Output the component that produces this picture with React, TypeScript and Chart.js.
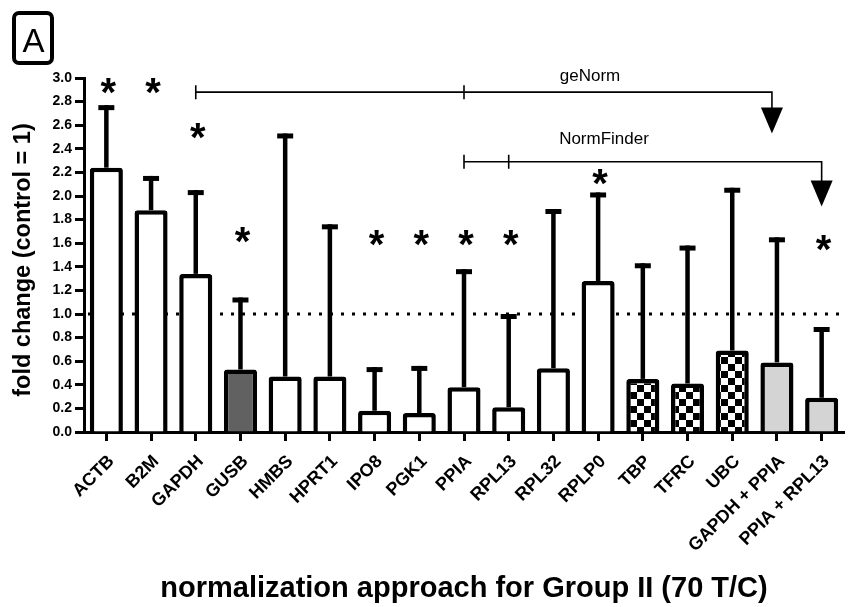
import React, { useEffect, useRef } from 'react';
import { Chart, registerables } from 'chart.js';

Chart.register(...registerables);

// ---------- data ----------
const categories = [
  'ACTB', 'B2M', 'GAPDH', 'GUSB', 'HMBS', 'HPRT1', 'IPO8', 'PGK1', 'PPIA',
  'RPL13', 'RPL32', 'RPLP0', 'TBP', 'TFRC', 'UBC', 'GAPDH + PPIA', 'PPIA + RPL13',
];
const foldChange = [2.24, 1.88, 1.34, 0.53, 0.47, 0.47, 0.18, 0.16, 0.38, 0.21, 0.54, 1.28, 0.45, 0.41, 0.69, 0.59, 0.29];
const sdUpper = [0.53, 0.29, 0.71, 0.61, 2.06, 1.29, 0.37, 0.40, 1.00, 0.79, 1.35, 0.75, 0.98, 1.17, 1.38, 1.06, 0.60];
const fillKind = ['white', 'white', 'white', 'dark', 'white', 'white', 'white', 'white', 'white', 'white', 'white', 'white', 'checker', 'checker', 'checker', 'light', 'light'];
const starLevel: (number | null)[] = [2.93, 2.93, 2.55, 1.67, null, null, 1.64, 1.64, 1.64, 1.64, null, 2.16, null, null, null, null, 1.60];
const yMin = 0;
const yMax = 3.0;
const yStep = 0.2;
const referenceLevel = 1.0;
const geNorm = { label: 'geNorm', from: 2, mid: 8, to: 15, level: 2.88, tip: 2.53 };
const normFinder = { label: 'NormFinder', from: 8, mid: 9, to: 16, level: 2.29, tip: 1.91 };
const panelLetter = 'A';
const yTitle = 'fold change (control = 1)';
const xTitle = 'normalization approach for Group II (70 T/C)';

const FONT = "'Liberation Sans', Arial, Helvetica, sans-serif";

function makeChecker(size: number): CanvasPattern | string {
  const c = document.createElement('canvas');
  c.width = size * 2;
  c.height = size * 2;
  const g = c.getContext('2d');
  if (!g) return '#888';
  g.fillStyle = '#ffffff';
  g.fillRect(0, 0, size * 2, size * 2);
  g.fillStyle = '#000000';
  g.fillRect(0, 0, size, size);
  g.fillRect(size, size, size, size);
  return g.createPattern(c, 'repeat') || '#888';
}

const overlayPlugin = {
  id: 'overlay',
  beforeDatasetsDraw(chart: any) {
    const { ctx, chartArea, scales } = chart;
    const y = scales.y.getPixelForValue(referenceLevel);
    ctx.save();
    ctx.strokeStyle = '#000';
    ctx.lineWidth = 3;
    ctx.setLineDash([3, 8]);
    ctx.beginPath();
    ctx.moveTo(chartArea.left + 4, y);
    ctx.lineTo(chartArea.right, y);
    ctx.stroke();
    ctx.restore();
  },
  afterDraw(chart: any) {
    const { ctx, scales } = chart;
    const xs = scales.x;
    const ys = scales.y;
    ctx.save();
    // error bars (upper only)
    ctx.strokeStyle = '#000';
    ctx.lineCap = 'butt';
    for (let i = 0; i < categories.length; i++) {
      const x = xs.getPixelForValue(i);
      const yb = ys.getPixelForValue(foldChange[i]);
      const yt = ys.getPixelForValue(foldChange[i] + sdUpper[i]);
      ctx.lineWidth = 4.5;
      ctx.beginPath();
      ctx.moveTo(x, yb);
      ctx.lineTo(x, yt);
      ctx.stroke();
      ctx.lineWidth = 5;
      ctx.beginPath();
      ctx.moveTo(x - 8, yt + 2.5);
      ctx.lineTo(x + 8, yt + 2.5);
      ctx.stroke();
    }
    // asterisks
    ctx.fillStyle = '#000';
    ctx.font = `bold 40px ${FONT}`;
    ctx.textAlign = 'center';
    ctx.textBaseline = 'alphabetic';
    const m = ctx.measureText('*');
    const asc = m.actualBoundingBoxAscent;
    const desc = m.actualBoundingBoxDescent;
    for (let i = 0; i < categories.length; i++) {
      const s = starLevel[i];
      if (s == null) continue;
      const x = xs.getPixelForValue(i) + 2;
      const cy = ys.getPixelForValue(s);
      ctx.fillText('*', x, cy + (asc - desc) / 2);
    }
    // brackets with arrows
    const drawBracket = (b: any, arrowShift: number, textX: number, textY: number) => {
      const y = ys.getPixelForValue(b.level);
      const x0 = xs.getPixelForValue(b.from);
      const x1 = xs.getPixelForValue(b.mid);
      const x2 = xs.getPixelForValue(b.to) + arrowShift;
      const tip = ys.getPixelForValue(b.tip);
      const triH = 26;
      ctx.strokeStyle = '#000';
      ctx.lineWidth = 1.6;
      ctx.beginPath();
      ctx.moveTo(x0, y);
      ctx.lineTo(x2, y);
      ctx.lineTo(x2, tip - triH + 2);
      ctx.stroke();
      ctx.beginPath();
      ctx.moveTo(x0, y - 7);
      ctx.lineTo(x0, y + 7);
      ctx.moveTo(x1, y - 7);
      ctx.lineTo(x1, y + 7);
      ctx.stroke();
      ctx.fillStyle = '#000';
      ctx.beginPath();
      ctx.moveTo(x2 - 11, tip - triH);
      ctx.lineTo(x2 + 11, tip - triH);
      ctx.lineTo(x2, tip);
      ctx.closePath();
      ctx.fill();
      ctx.font = `17px ${FONT}`;
      ctx.textAlign = 'center';
      ctx.textBaseline = 'middle';
      ctx.fillText(b.label, textX, textY);
    };
    drawBracket(geNorm, -5, 590, 76);
    drawBracket(normFinder, 0, 604, 139);

    // panel letter box
    ctx.lineWidth = 4;
    ctx.strokeStyle = '#000';
    ctx.beginPath();
    (ctx as any).roundRect(14, 13, 38, 50, 5);
    ctx.stroke();
    ctx.font = `33px ${FONT}`;
    ctx.textAlign = 'center';
    ctx.textBaseline = 'alphabetic';
    ctx.fillText(panelLetter, 33.5, 52);

    // axis titles
    ctx.font = `bold 23.5px ${FONT}`;
    ctx.save();
    ctx.translate(30, 260);
    ctx.rotate(-Math.PI / 2);
    ctx.textAlign = 'center';
    ctx.textBaseline = 'alphabetic';
    ctx.fillText(yTitle, 0, 0);
    ctx.restore();
    ctx.font = `bold 29px ${FONT}`;
    ctx.textAlign = 'center';
    ctx.textBaseline = 'alphabetic';
    ctx.fillText(xTitle, 464, 597);
    ctx.restore();
  },
};

export default function App() {
  const ref = useRef<HTMLCanvasElement | null>(null);
  useEffect(() => {
    const canvas = ref.current;
    if (!canvas) return;
    const checker = makeChecker(7);
    const fills = fillKind.map((k) =>
      k === 'dark' ? '#616161' : k === 'light' ? '#d4d4d4' : k === 'checker' ? checker : '#ffffff'
    );
    const chart = new Chart(canvas, {
      type: 'bar',
      data: {
        labels: categories,
        datasets: [
          {
            data: foldChange,
            backgroundColor: fills as any,
            borderColor: '#000',
            borderWidth: 4.5,
            borderRadius: 3,
            borderSkipped: 'bottom',
            barPercentage: 0.74,
            categoryPercentage: 1,
          },
        ],
      },
      options: {
        responsive: false,
        animation: false,
        devicePixelRatio: 1,
        layout: { padding: { left: 0, right: 9, top: 78, bottom: 0 } },
        plugins: { legend: { display: false }, tooltip: { enabled: false }, title: { display: false } },
        scales: {
          x: {
            z: 1,
            grid: {
              display: true,
              drawOnChartArea: false,
              drawTicks: true,
              offset: false,
              tickLength: 9,
              tickWidth: 3,
              tickColor: '#000',
            },
            border: { display: true, color: '#000', width: 3 },
            ticks: {
              autoSkip: false,
              minRotation: 45,
              maxRotation: 45,
              padding: 10,
              labelOffset: 5,
              color: '#000',
              font: { family: FONT, size: 18, weight: 'bold' },
            },
            afterFit: (s: any) => {
              s.height = 175;
            },
          },
          y: {
            min: yMin,
            max: yMax,
            grid: {
              display: true,
              drawOnChartArea: false,
              drawTicks: true,
              tickLength: 9,
              tickWidth: 3,
              tickColor: '#000',
            },
            border: { display: true, color: '#000', width: 3 },
            ticks: {
              stepSize: yStep,
              padding: 3,
              color: '#000',
              font: { family: FONT, size: 14, weight: 'bold' },
              callback: (v: any) => Number(v).toFixed(1),
            },
            afterFit: (s: any) => {
              s.width = 84;
            },
          },
        },
      },
      plugins: [overlayPlugin],
    });
    return () => chart.destroy();
  }, []);
  return (
    <div style={{ position: 'absolute', left: 0, top: 0, width: 853, height: 607, background: '#fff' }}>
      <canvas ref={ref} width={853} height={607} style={{ width: 853, height: 607, display: 'block' }} />
    </div>
  );
}
